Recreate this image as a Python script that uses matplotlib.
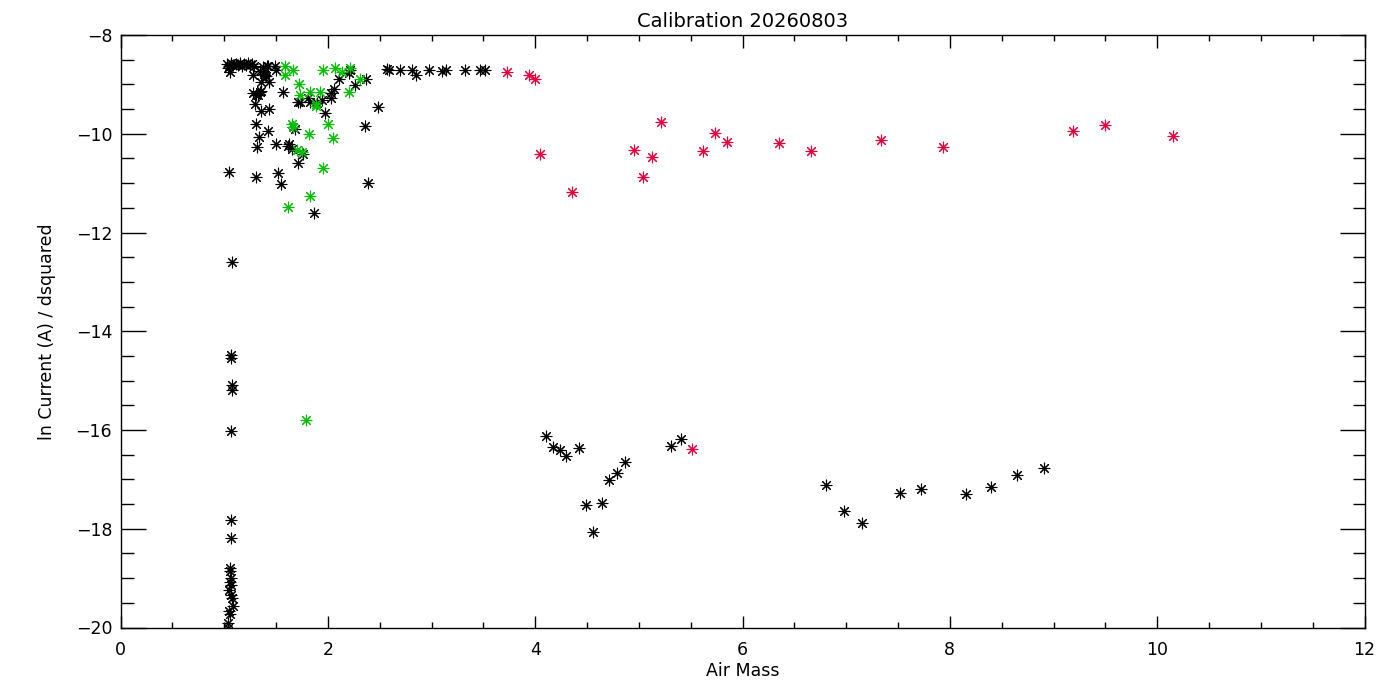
import numpy as np

from matplotlib import pyplot as plt
from matplotlib.ticker import MultipleLocator

# black points: dense upper cluster, top row, left column, lower arc
black_x = [
    1.03, 1.05, 1.07, 1.09, 1.11, 1.13, 1.15, 1.17, 1.19, 1.21, 1.23, 1.25, 1.27, 1.29,
    1.04, 1.06,
    1.41, 1.49, 1.50, 1.28, 1.38, 1.35, 1.40, 1.36, 1.43, 1.28, 1.35, 1.31, 1.57,
    1.30, 1.43, 1.36, 1.31, 1.34, 1.42, 1.32, 1.50, 1.63, 1.62, 1.65, 1.715, 1.76,
    1.045, 1.31, 1.52, 1.545, 1.87, 2.39, 2.36, 2.48, 1.97, 1.715, 1.81, 1.83,
    1.90, 1.94, 2.03, 2.03, 2.06, 2.11, 2.20, 2.21, 2.26, 2.37, 1.665, 1.68,
    1.375, 1.42, 1.39, 1.33, 1.36, 1.73,
    2.57, 2.59, 2.70, 2.81, 2.85, 2.98, 3.10, 3.14, 3.32, 3.47, 3.52,
    1.078, 1.063, 1.066, 1.08, 1.075, 1.066, 1.066, 1.066, 1.056, 1.06, 1.065,
    1.056, 1.065, 1.05, 1.065, 1.075, 1.085, 1.05, 1.06, 1.04, 1.04,
    4.10, 4.17, 4.24, 4.30, 4.42, 4.49, 4.56, 4.64, 4.71, 4.79, 4.87, 5.31, 5.41,
    6.81, 6.98, 7.15, 7.52, 7.72, 8.16, 8.40, 8.65, 8.91,
]
black_y = [
    -8.58, -8.62, -8.57, -8.61, -8.58, -8.60, -8.57, -8.62, -8.58, -8.60, -8.57, -8.61, -8.59, -8.62,
    -8.66, -8.74,
    -8.63, -8.63, -8.71, -8.81, -8.78, -8.72, -8.83, -8.95, -8.95, -9.17, -9.15, -9.22, -9.16,
    -9.39, -9.49, -9.54, -9.80, -10.06, -9.94, -10.26, -10.20, -10.20, -10.25, -10.30, -10.59, -10.42,
    -10.77, -10.88, -10.79, -11.02, -11.60, -10.99, -9.85, -9.46, -9.58, -9.35, -9.28, -9.35,
    -9.38, -9.31, -9.28, -9.17, -9.09, -8.89, -8.77, -8.71, -9.01, -8.90, -9.86, -9.90,
    -8.65, -8.63, -8.82, -9.21, -9.14, -9.36,
    -8.68, -8.71, -8.70, -8.71, -8.80, -8.71, -8.73, -8.71, -8.71, -8.71, -8.71,
    -12.59, -14.48, -14.55, -15.09, -15.19, -16.03, -17.82, -18.19, -18.80, -18.86, -19.00,
    -19.07, -19.14, -19.24, -19.34, -19.41, -19.56, -19.66, -19.72, -19.91, -20.02,
    -16.12, -16.34, -16.41, -16.53, -16.36, -17.52, -18.07, -17.48, -17.01, -16.87, -16.65, -16.32, -16.18,
    -17.11, -17.64, -17.88, -17.28, -17.19, -17.30, -17.15, -16.91, -16.77,
]

green_x = [
    1.587, 1.66, 1.587, 1.95, 2.07, 2.21, 2.14, 2.31, 1.72, 1.83, 1.92, 2.20,
    1.73, 1.89, 1.89, 1.65, 1.66, 2.00, 1.82, 2.05, 1.705, 1.75, 1.95, 1.83, 1.62,
    1.79,
]
green_y = [
    -8.63, -8.70, -8.81, -8.70, -8.66, -8.66, -8.74, -8.90, -9.00, -9.16, -9.16, -9.16,
    -9.22, -9.40, -9.44, -9.80, -9.87, -9.80, -10.01, -10.09, -10.33, -10.36, -10.69, -11.26, -11.49,
    -15.80,
]

red_x = [
    3.73, 3.94, 4.00, 4.05, 4.355, 4.95, 5.04, 5.13, 5.21, 5.62, 5.73, 5.85,
    6.35, 6.66, 7.34, 7.93, 9.19, 9.50, 10.15, 5.51,
]
red_y = [
    -8.74, -8.80, -8.90, -10.41, -11.18, -10.33, -10.88, -10.47, -9.76, -10.35, -9.98, -10.17,
    -10.19, -10.35, -10.13, -10.27, -9.94, -9.82, -10.05, -16.38,
]

title = 'Calibration 20260803'
x_label = 'Air Mass'
y_label = 'ln Current (A) / dsquared'

fig = plt.figure(figsize=(14, 7), dpi=100)
ax = fig.add_axes([120.5 / 1400, 72.5 / 700, 1244 / 1400, 592.5 / 700])

star = (8, 2, 0)  # IDL psym=2 style asterisk
common = dict(marker=star, s=60, linewidths=0.8)
ax.scatter(black_x, black_y, c='black', **common)
ax.scatter(green_x, green_y, c='#00c000', **common)
ax.scatter(red_x, red_y, c='#e8003c', **common)

ax.set_xlim(0, 12)
ax.set_ylim(-20, -8)
ax.xaxis.set_major_locator(MultipleLocator(2))
ax.xaxis.set_minor_locator(MultipleLocator(0.5))
ax.yaxis.set_major_locator(MultipleLocator(2))
ax.yaxis.set_minor_locator(MultipleLocator(0.5))

ax.tick_params(which='both', direction='in', top=True, right=True, width=1, labelsize=12.5)
ax.tick_params(axis='x', which='major', length=9, pad=10)
ax.tick_params(axis='x', which='minor', length=4.5)
ax.tick_params(axis='y', which='major', length=18, pad=6)
ax.tick_params(axis='y', which='minor', length=9)
for spine in ax.spines.values():
    spine.set_linewidth(1)

ax.set_title(title, fontsize=14, pad=6)
ax.set_xlabel(x_label, fontsize=12.5, labelpad=2)
ax.set_ylabel(y_label, fontsize=12.5, labelpad=14)

fig.savefig('out.png', dpi=100)
